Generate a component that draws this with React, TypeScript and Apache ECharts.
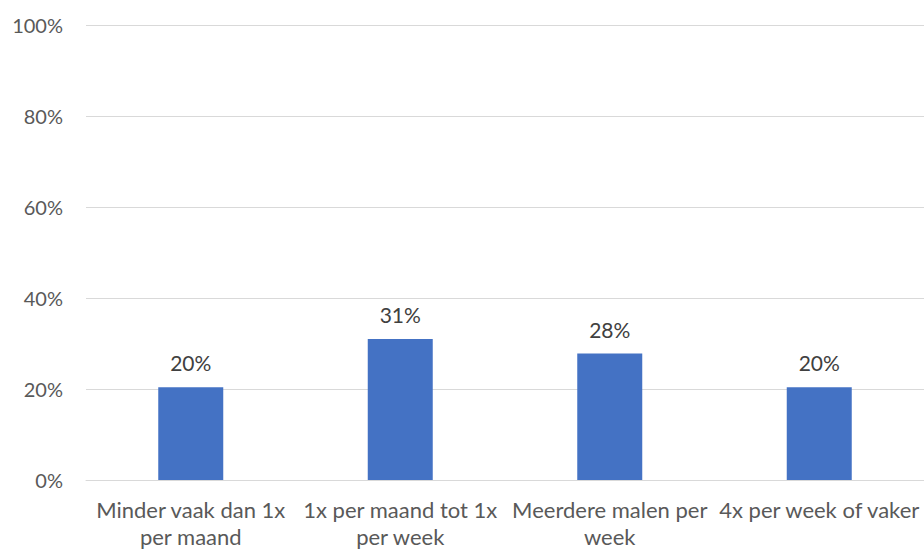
import React, { useEffect, useRef } from "react";
import * as echarts from "echarts";

const categories = [
  "Minder vaak dan 1x\nper maand",
  "1x per maand tot 1x\nper week",
  "Meerdere malen per\nweek",
  "4x per week of vaker",
];
const values = [20.4, 31.0, 27.8, 20.4];
const yTicks = [0, 20, 40, 60, 80, 100];

export default function App() {
  const ref = useRef<HTMLDivElement>(null);
  useEffect(() => {
    if (!ref.current) return;
    const chart = echarts.init(ref.current, undefined, { renderer: "svg" });
    const font = "Lato, 'Open Sans', sans-serif";
    chart.setOption({
      animation: false,
      backgroundColor: "#ffffff",
      grid: { left: 86, right: 0, top: 25, bottom: 71, containLabel: false },
      xAxis: {
        type: "category",
        data: categories,
        axisLine: { show: true, lineStyle: { color: "#d9d9d9", width: 1 } },
        axisTick: { show: false },
        axisLabel: {
          interval: 0,
          color: "#595959",
          fontFamily: font,
          fontSize: 22,
          lineHeight: 27,
          margin: 16,
          align: "center",
        },
      },
      yAxis: {
        type: "value",
        min: yTicks[0],
        max: yTicks[yTicks.length - 1],
        interval: 20,
        axisLine: { show: false },
        axisTick: { show: false },
        splitLine: { lineStyle: { color: "#d9d9d9", width: 1 } },
        axisLabel: {
          color: "#595959",
          fontFamily: font,
          fontSize: 20,
          margin: 23,
          formatter: (v: number) => `${v}%`,
        },
      },
      series: [
        {
          type: "bar",
          data: values,
          barWidth: 65,
          itemStyle: { color: "#4472c4" },
          label: {
            show: true,
            position: "top",
            distance: 14,
            color: "#404040",
            fontFamily: font,
            fontSize: 21,
            formatter: (p: any) => `${Math.round(p.value)}%`,
          },
        },
      ],
    });
    return () => chart.dispose();
  }, []);
  return (
    <div
      ref={ref}
      style={{ position: "absolute", left: 0, top: 0, width: 924, height: 551 }}
    />
  );
}
